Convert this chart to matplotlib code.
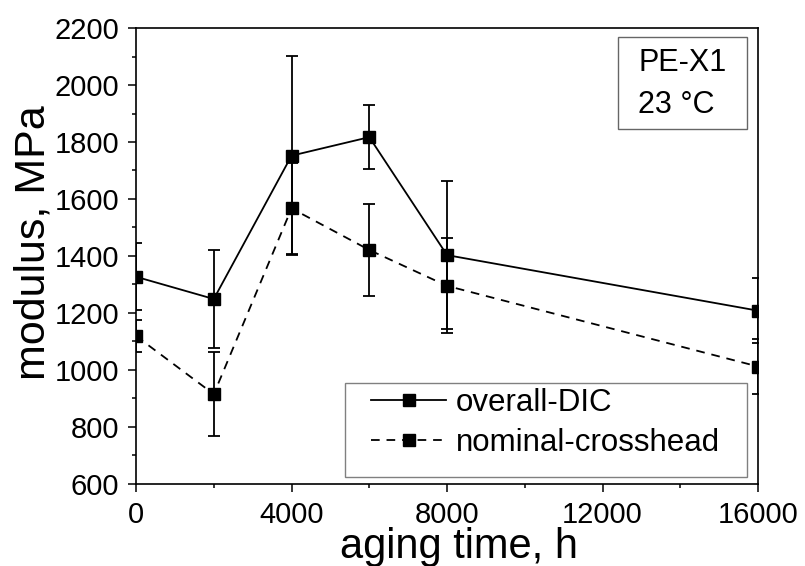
import matplotlib.pyplot as plt
from matplotlib.lines import Line2D
from matplotlib.patches import Rectangle
from matplotlib.ticker import MultipleLocator

plt.rcParams['font.family'] = ['Liberation Sans', 'DejaVu Sans']

# aging time (h) and modulus (MPa) with standard deviations
aging_time = [0, 2000, 4000, 6000, 8000, 16000]
dic_modulus = [1327, 1249, 1752, 1817, 1403, 1208]
dic_err = [118, 172, 350, 113, 261, 115]
cross_modulus = [1119, 915, 1567, 1421, 1295, 1012]
cross_err = [57, 147, 160, 162, 167, 95]
series_names = ['overall-DIC', 'nominal-crosshead']

fig = plt.figure(figsize=(8.05, 5.66), dpi=100)
ax = fig.add_axes([0.169, 0.145, 0.7727, 0.8055])

ms = 8.8
dash = (0, (4.8, 3.8))
ax.errorbar(aging_time, dic_modulus, yerr=dic_err, color='black', lw=1.3,
            marker='s', ms=ms, capsize=4, capthick=1.3, elinewidth=1.3)
ax.errorbar(aging_time, cross_modulus, yerr=cross_err, color='black', lw=1.3,
            ls=dash, marker='s', ms=ms, capsize=4, capthick=1.3,
            elinewidth=1.3)

ax.set_xlim(0, 16000)
ax.set_ylim(600, 2200)
ax.xaxis.set_major_locator(MultipleLocator(4000))
ax.xaxis.set_minor_locator(MultipleLocator(2000))
ax.yaxis.set_major_locator(MultipleLocator(200))
ax.yaxis.set_minor_locator(MultipleLocator(100))
ax.tick_params(which='major', direction='out', length=6, width=1.1,
               labelsize=21, pad=6, top=False, right=False)
ax.tick_params(which='minor', direction='out', length=3, width=1.1,
               top=False, right=False)
for s in ax.spines.values():
    s.set_linewidth(1.2)

ax.set_xlabel('aging time, h', fontsize=30)
ax.set_ylabel('modulus, MPa', fontsize=31)
ax.xaxis.set_label_coords(0.52, -0.094)
ax.yaxis.set_label_coords(-0.133, 0.53)

# legend: plain line handles, own frame drawn separately
handles = [Line2D([], [], color='black', lw=1.3, marker='s', ms=ms),
           Line2D([], [], color='black', lw=1.3, ls=dash, marker='s', ms=ms)]
ax.legend(handles, series_names, loc='center left',
          bbox_to_anchor=(0.378, 0.134), borderaxespad=0, borderpad=0,
          fontsize=22.5, handlelength=2.4, frameon=False,
          labelspacing=0.3, handletextpad=0.3)
ax.add_patch(Rectangle((0.336, 0.015), 0.646, 0.206, transform=ax.transAxes,
                       fill=False, ec='#808080', lw=1, zorder=5))

# sample / temperature annotation box
ax.add_patch(Rectangle((0.775, 0.778), 0.207, 0.202, transform=ax.transAxes,
                       fill=False, ec='#666666', lw=1, zorder=5))
ax.text(0.807, 0.923, 'PE-X1', transform=ax.transAxes, fontsize=22,
        va='center', ha='left')
ax.text(0.807, 0.831, '23 °C', transform=ax.transAxes, fontsize=22,
        va='center', ha='left')

fig.savefig('out.png', dpi=100)
